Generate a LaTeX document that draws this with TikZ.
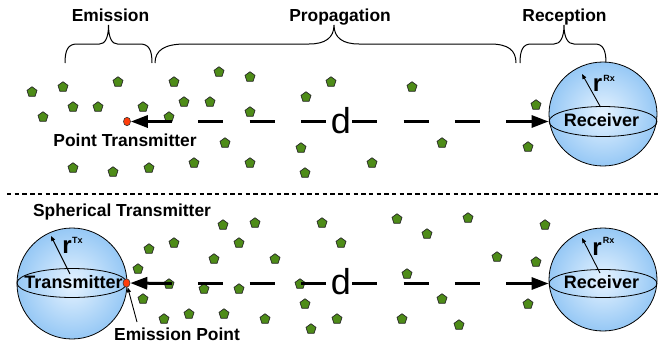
\documentclass[tikz,border=0pt]{standalone}
\usepackage{fontspec}
\setmainfont{Liberation Sans}
\usetikzlibrary{shapes.geometric,arrows.meta}
\definecolor{molgreen}{RGB}{78,140,24}
\definecolor{sphin}{RGB}{230,243,255}
\definecolor{sphout}{RGB}{150,200,245}
\definecolor{dotred}{RGB}{255,60,10}
\begin{document}
\begin{tikzpicture}[x=1pt,y=-1pt,
  mol/.style={regular polygon, regular polygon sides=5, draw=black!85, line width=0.7pt, fill=molgreen, inner sep=0pt, minimum size=10.5pt},
  lbl/.style={font=\fontsize{17.4}{20}\selectfont\bfseries, inner sep=0pt, anchor=base},
  inlbl/.style={font=\fontsize{18}{20}\selectfont\bfseries, inner sep=0pt, anchor=base},
  rlbl/.style={font=\fontsize{24}{26}\selectfont\bfseries, inner sep=0pt, anchor=base},
  suplbl/.style={font=\fontsize{9}{10}\selectfont\bfseries, inner sep=0pt, anchor=base},
  dlbl/.style={font=\fontsize{36}{38}\selectfont, inner sep=0pt, anchor=base},
  sphere/.style={ellipse, draw=black, line width=0.8pt, inner color=sphin, outer color=sphout, inner sep=0pt},
  equator/.style={ellipse, draw=black, line width=0.8pt, inner sep=0pt},
  dotnode/.style={ellipse, draw=black!80, line width=0.6pt, fill=dotred, inner sep=0pt, minimum width=7pt, minimum height=8.5pt},
  mainline/.style={line width=3pt},
  bigtip/.style={-{Triangle[length=17pt,width=12pt]}},
  thinarrow/.style={line width=0.9pt, -{Triangle[length=5pt,width=4pt]}},
  bracestyle/.style={line width=1pt},
  dashes/.style={dash pattern=on 25pt off 26.3pt, dash phase=25pt}
]
\useasboundingbox (0,0) rectangle (664,346);

% braces
\draw[bracestyle] (65,63) .. controls (65,50) and (68,44) .. (77,44) -- (99.5,44)
  .. controls (105,44) and (108.5,38) .. (108.5,25)
  .. controls (108.5,38) and (112,44) .. (117.5,44) -- (140,44)
  .. controls (149,44) and (152,50) .. (152,63);
\draw[bracestyle] (155,63) .. controls (155,50) and (165,44) .. (185,44) -- (309,44)
  .. controls (325,44) and (334,38) .. (334,25)
  .. controls (334,38) and (343,44) .. (359,44) -- (490,44)
  .. controls (508,44) and (516,50) .. (516,63);
\draw[bracestyle] (520,63) .. controls (520,50) and (523,44) .. (531,44) -- (554,44)
  .. controls (560,44) and (564,38) .. (564,25)
  .. controls (564,38) and (568,44) .. (574,44) -- (595,44)
  .. controls (603,44) and (606,50) .. (606,63);

\node[lbl] (lemis) at (110.5,21.5) {Emission};
\node[lbl] (lprop) at (340,21.5) {Propagation};
\node[lbl] (lrecp) at (564.5,21.5) {Reception};

% separator
\coordinate (sepL) at (7,194);
\coordinate (sepR) at (660,194);
\draw[line width=2.2pt, dash pattern=on 4.4pt off 3.3pt] (sepL) -- (sepR);

% molecules upper
\foreach \x/\y [count=\i] in {32/92,63/87,118/82,174/82,219/72,250/77,73/107,98/107,143/107,184/102,210/102,306/97,331/82,43/117,169/117,250/112,225/143,301/148,73/168,113/172,149/168,194/163,250/163,305/173,372/163,412/87,536/105,442/143,528/147}
  \node[mol] (mu\i) at (\x,\y) {};
% molecules lower
\foreach \x/\y [count=\i] in {149/249,174/243,138/269,169/284,143/299,164/319,189/314,223/225,255/223,322/223,239/243,341/243,214/259,275/259,204/289,239/289,300/284,305/304,224/314,265/319,337/319,311/329,397/219,468/218,545/225,427/234,497/257,536/262,407/274,442/299,528/304,402/319,459/325}
  \node[mol] (ml\i) at (\x,\y) {};

% ---------- upper scenario ----------
\node[sphere, minimum width=108pt, minimum height=104pt] (rx1) at (603,114) {};
\node[equator, minimum width=108pt, minimum height=30pt] (eq1) at (603,121.5) {};
\node[inlbl] (rxt1) at (601.5,126.7) {Receiver};
\coordinate (rs1) at (600.5,107);
\coordinate (re1) at (582,74);
\draw[thinarrow] (rs1) -- (re1);
\node[rlbl] (r1) at (597.5,91) {r};
\node[suplbl] (rxs1) at (609,81) {Rx};

\node[dotnode] (ptx) at (127,121.5) {};
\coordinate (a1) at (172,121.5);
\coordinate (b1) at (507,121.5);
\draw[mainline, bigtip] (a1) -- (ptx);
\draw[mainline, dashes] (a1) -- (b1);
\draw[mainline, bigtip] (b1) -- (eq1.west);
\node[dlbl] (d1) at (341,133.3) {d};
\node[lbl] (lpt) at (125,146.7) {Point Transmitter};

% ---------- lower scenario ----------
\node[lbl] (lsph) at (122,216.3) {Spherical Transmitter};
\node[sphere, minimum width=110pt, minimum height=111pt] (tx) at (72,283.5) {};
\node[equator, minimum width=110pt, minimum height=29pt] (eq3) at (72,283) {};
\node[inlbl] (txt) at (73.5,288) {Transmitter};
\coordinate (rs3) at (70,274);
\coordinate (re3) at (51,236);
\draw[thinarrow] (rs3) -- (re3);
\node[rlbl] (r3) at (67,253.3) {r};
\node[suplbl] (txs) at (77.5,243.3) {Tx};

\node[sphere, minimum width=108pt, minimum height=103pt] (rx2) at (603,279.5) {};
\node[equator, minimum width=108pt, minimum height=28pt] (eq2) at (603,283.5) {};
\node[inlbl] (rxt2) at (601.5,288.7) {Receiver};
\coordinate (rs2) at (600,273);
\coordinate (re2) at (582,238);
\draw[thinarrow] (rs2) -- (re2);
\node[rlbl] (r2) at (597,255) {r};
\node[suplbl] (rxs2) at (608.5,243) {Rx};

\node[dotnode] (ptx2) at (126.5,283) {};
\coordinate (a2) at (172,283.5);
\coordinate (b2) at (507,283.5);
\draw[mainline, bigtip] (a2) -- (ptx2);
\draw[mainline, dashes] (a2) -- (b2);
\draw[mainline, bigtip] (b2) -- (eq2.west);
\node[dlbl] (d2) at (341,294.7) {d};

\coordinate (ep) at (137,322);
\draw[thinarrow] (ep) -- (ptx2);
\node[lbl] (lep) at (177,340) {Emission Point};
\end{tikzpicture}
\end{document}
